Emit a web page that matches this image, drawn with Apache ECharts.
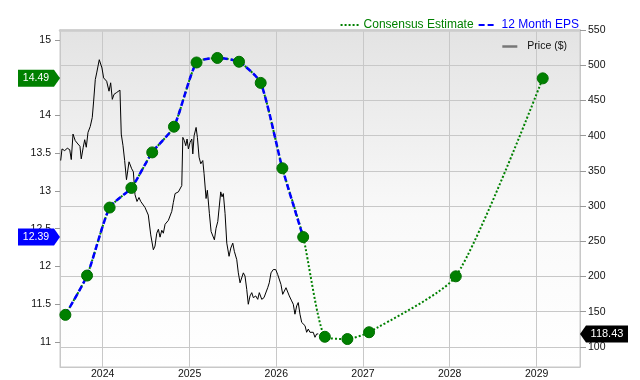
<!DOCTYPE html>
<html>
<head>
<meta charset="utf-8">
<script src="https://cdn.jsdelivr.net/npm/echarts@6/dist/echarts.min.js"></script>
<style>
  html, body { margin: 0; padding: 0; background: #fff; }
  #chart { width: 640px; height: 380px; }
</style>
</head>
<body>
<div id="chart"></div>
<script>
// EPS dates (decimal years) and values: first 12 are reported, rest are estimates
const epsYears = [2023.57, 2023.82, 2024.08, 2024.33, 2024.57, 2024.82, 2025.08, 2025.32,
  2025.57, 2025.82, 2026.07, 2026.31, 2026.56, 2026.82, 2027.07, 2028.07, 2029.07];
const epsValues = [11.36, 11.88, 12.78, 13.04, 13.51, 13.85, 14.70, 14.76,
  14.71, 14.43, 13.30, 12.39, 11.07, 11.04, 11.13, 11.87, 14.49];
const actualCount = 12;

// price ($), right axis
const priceYears = [2023.516, 2023.531, 2023.562, 2023.592, 2023.620, 2023.638, 2023.658, 2023.684, 2023.715, 2023.738,
  2023.753, 2023.776, 2023.793, 2023.811, 2023.831, 2023.857, 2023.880, 2023.896, 2023.915, 2023.931,
  2023.946, 2023.961, 2023.977, 2023.992, 2024.011, 2024.030, 2024.046, 2024.061, 2024.073, 2024.092,
  2024.111, 2024.130, 2024.157, 2024.176, 2024.199, 2024.214, 2024.234, 2024.253, 2024.274, 2024.303,
  2024.334, 2024.353, 2024.372, 2024.395, 2024.418, 2024.438, 2024.461, 2024.487, 2024.525, 2024.553,
  2024.583, 2024.602, 2024.622, 2024.641, 2024.660, 2024.680, 2024.698, 2024.718, 2024.737, 2024.756,
  2024.775, 2024.795, 2024.813, 2024.833, 2024.853, 2024.871, 2024.891, 2024.910, 2024.922, 2024.940,
  2024.956, 2024.971, 2024.986, 2025.006, 2025.025, 2025.037, 2025.052, 2025.075, 2025.090, 2025.109,
  2025.129, 2025.152, 2025.167, 2025.190, 2025.205, 2025.228, 2025.248, 2025.267, 2025.286, 2025.305,
  2025.325, 2025.343, 2025.359, 2025.374, 2025.389, 2025.409, 2025.429, 2025.455, 2025.475, 2025.498,
  2025.516, 2025.544, 2025.562, 2025.582, 2025.601, 2025.620, 2025.639, 2025.659, 2025.677, 2025.697,
  2025.717, 2025.735, 2025.763, 2025.786, 2025.804, 2025.832, 2025.858, 2025.881, 2025.901, 2025.919,
  2025.939, 2025.965, 2025.993, 2026.016, 2026.035, 2026.054, 2026.074, 2026.092, 2026.112, 2026.131,
  2026.150, 2026.177, 2026.196, 2026.215, 2026.235, 2026.253, 2026.273, 2026.293, 2026.311, 2026.331,
  2026.350, 2026.369, 2026.388, 2026.408, 2026.426, 2026.446, 2026.465, 2026.484];
const priceValues = [364.6, 381.1, 378.7, 382.1, 380.1, 366.0, 402.2, 392.8, 388.1, 384.9,
  367.0, 383.5, 394.2, 383.5, 404.6, 413.0, 425.7, 449.1, 479.6, 489.0,
  491.3, 507.8, 510.2, 496.1, 482.0, 484.3, 477.2, 478.6, 463.1, 475.0,
  451.5, 458.5, 460.9, 463.1, 464.6, 402.2, 385.7, 364.6, 337.4, 362.8,
  352.9, 348.7, 316.3, 306.5, 312.1, 306.5, 303.7, 298.0, 287.2, 259.0,
  237.9, 243.1, 261.4, 267.0, 255.8, 265.6, 261.4, 274.1, 271.3, 279.7,
  276.9, 292.4, 305.1, 317.7, 314.9, 320.1, 319.1, 329.0, 397.5, 392.8,
  385.7, 395.2, 381.1, 390.5, 395.2, 374.0, 399.8, 411.6, 397.5, 369.4,
  360.0, 364.6, 345.9, 310.7, 322.4, 289.6, 263.8, 261.4, 252.0, 268.5,
  277.9, 280.1, 320.1, 313.1, 317.7, 289.6, 247.3, 228.6, 240.3, 247.3,
  235.7, 223.8, 205.1, 191.0, 193.4, 205.1, 200.5, 181.6, 160.5, 172.3,
  177.0, 169.9, 172.3, 167.5, 177.0, 167.5, 169.9, 168.5, 184.0, 191.0,
  205.1, 209.8, 209.8, 202.7, 200.5, 188.6, 174.6, 172.3, 184.0, 186.4,
  172.3, 165.3, 160.5, 146.4, 158.2, 162.9, 146.4, 134.7, 132.3, 130.1,
  120.7, 125.3, 120.7, 118.3, 120.7, 113.6, 118.3, 118.43];

const leftTicks = [11, 11.5, 12, 12.5, 13, 13.5, 14, 14.5, 15];
const rightTicks = [100, 150, 200, 250, 300, 350, 400, 450, 500, 550];
const xStartYear = 2023.508;
const xEndYear = 2029.5;

const FONT = '"Liberation Sans", Arial, sans-serif';
const YEAR_MS = 365 * 24 * 3600 * 1000;

function yearToTime(y) {
  const yr = Math.floor(y);
  const a = new Date(yr, 0, 1).getTime();
  const b = new Date(yr + 1, 0, 1).getTime();
  return a + (y - yr) * (b - a);
}

const xMin = yearToTime(xStartYear);
const xMax = yearToTime(xEndYear);
const epsPoints = epsYears.map((y, i) => [yearToTime(y), epsValues[i]]);
const pricePoints = priceYears.map((y, i) => [yearToTime(y), priceValues[i]]);
const lastPrice = priceValues[priceValues.length - 1];

const tagRight = "path://M0,0 L36,0 L42,8.5 L36,17 L0,17 Z";
const tagLeft = "path://M6,0 L48,0 L48,17 L6,17 L0,8.5 Z";

function tag(path, size, offset, color, labelOffset, fontSize) {
  return {
    symbol: path,
    symbolSize: size,
    symbolOffset: offset,
    symbolKeepAspect: false,
    silent: true,
    itemStyle: { color: color },
    label: {
      show: true,
      position: "inside",
      offset: labelOffset,
      color: "#fff",
      fontSize: fontSize,
      fontFamily: FONT,
      formatter: "{c}",
    },
  };
}

const chart = echarts.init(document.getElementById("chart"));
chart.setOption({
  animation: false,
  backgroundColor: "#fff",
  textStyle: { fontFamily: FONT },
  grid: {
    left: 60,
    right: 60,
    top: 30,
    bottom: 10,
    show: true,
    borderColor: "#c8c8c8",
    borderWidth: 1,
    backgroundColor: new echarts.graphic.LinearGradient(0, 0, 0, 1, [
      { offset: 0, color: "#e3e3e3" },
      { offset: 0.55, color: "#f9f9f9" },
      { offset: 1, color: "#ffffff" },
    ]),
  },
  legend: [
    {
      data: [
        { name: "Consensus Estimate", textStyle: { color: "#008000" } },
        { name: "12 Month EPS", textStyle: { color: "#0000ff" } },
      ],
      right: 56,
      top: 14,
      itemWidth: 18,
      itemHeight: 10,
      itemGap: 4,
      selectedMode: false,
      itemStyle: { opacity: 0 },
      textStyle: { fontSize: 12, fontFamily: FONT },
    },
    {
      data: [{ name: "Price ($)", textStyle: { color: "#111" } }],
      right: 68,
      top: 36,
      itemWidth: 15,
      itemHeight: 10,
      selectedMode: false,
      itemStyle: { opacity: 0 },
      lineStyle: { color: "#777", width: 2.5, type: "solid" },
      textStyle: { fontSize: 10.5, fontFamily: FONT, padding: [0, 0, 0, 5] },
    },
  ],
  xAxis: [
    {
      type: "time",
      min: xMin,
      max: xMax,
      minInterval: YEAR_MS,
      maxInterval: YEAR_MS,
      axisLine: { show: true, lineStyle: { color: "#c8c8c8" } },
      axisTick: { show: false },
      splitLine: { show: true, lineStyle: { color: "#c8c8c8" } },
      axisLabel: {
        formatter: "{yyyy}",
        color: "#111",
        fontSize: 10.5,
        margin: 2,
        showMinLabel: false,
        showMaxLabel: false,
      },
    },
    {
      // only the heavier top edge of the plot
      type: "time",
      position: "top",
      min: xMin,
      max: xMax,
      axisLine: { show: true, lineStyle: { color: "#cccccc", width: 2.5 } },
      axisTick: { show: false },
      axisLabel: { show: false },
      splitLine: { show: false },
    },
  ],
  yAxis: [
    {
      type: "value",
      position: "left",
      min: 10.67,
      max: 15.13,
      splitNumber: 9,
      axisLine: { show: true, lineStyle: { color: "#c8c8c8" } },
      axisTick: { show: true, length: 5, lineStyle: { color: "#999" }, customValues: leftTicks },
      axisLabel: {
        customValues: leftTicks,
        color: "#111",
        fontSize: 10.5,
        margin: 9,
      },
      splitLine: { show: false },
    },
    {
      type: "value",
      position: "right",
      min: 71.4,
      max: 550,
      splitNumber: 10,
      axisLine: { show: true, lineStyle: { color: "#c8c8c8" } },
      axisTick: { show: true, length: 6, lineStyle: { color: "#999" }, customValues: rightTicks },
      axisLabel: {
        customValues: rightTicks,
        color: "#111",
        fontSize: 10.5,
        margin: 8,
      },
      splitLine: { show: true, lineStyle: { color: "#c8c8c8" } },
    },
  ],
  series: [
    {
      name: "Price ($)",
      type: "line",
      yAxisIndex: 1,
      data: pricePoints,
      symbol: "none",
      lineStyle: { color: "#000", width: 1 },
      itemStyle: { color: "#000" },
      z: 1,
      markPoint: Object.assign(tag(tagLeft, [48, 17], [24, 0], "#000", [3, 0], 11), {
        data: [{ coord: [xMax, lastPrice], value: lastPrice }],
      }),
    },
    {
      name: "Consensus Estimate",
      type: "line",
      yAxisIndex: 0,
      data: epsPoints,
      symbol: "none",
      smooth: 0.2,
      lineStyle: { color: "#008000", width: 2, type: [2, 2] },
      itemStyle: { color: "#008000" },
      z: 2,
      markPoint: Object.assign(tag(tagRight, [42, 17], [-21, 0], "#008000", [-3, 0], 10.5), {
        data: [{ coord: [xMin, epsValues[epsValues.length - 1]], value: epsValues[epsValues.length - 1] }],
      }),
    },
    {
      name: "12 Month EPS",
      type: "line",
      yAxisIndex: 0,
      data: epsPoints.slice(0, actualCount),
      symbol: "none",
      smooth: 0.2,
      lineStyle: { color: "#0000ff", width: 2.5, type: [6, 3] },
      itemStyle: { color: "#0000ff" },
      z: 3,
      markPoint: Object.assign(tag(tagRight, [42, 17], [-21, 0], "#0000ff", [-3, 0], 10.5), {
        data: [{ coord: [xMin, epsValues[actualCount - 1]], value: epsValues[actualCount - 1] }],
      }),
    },
    {
      type: "scatter",
      yAxisIndex: 0,
      data: epsPoints,
      symbolSize: 11,
      silent: true,
      itemStyle: { color: "#008000", borderColor: "#006e00", borderWidth: 1, opacity: 1 },
      z: 5,
    },
  ],
});
</script>
</body>
</html>
